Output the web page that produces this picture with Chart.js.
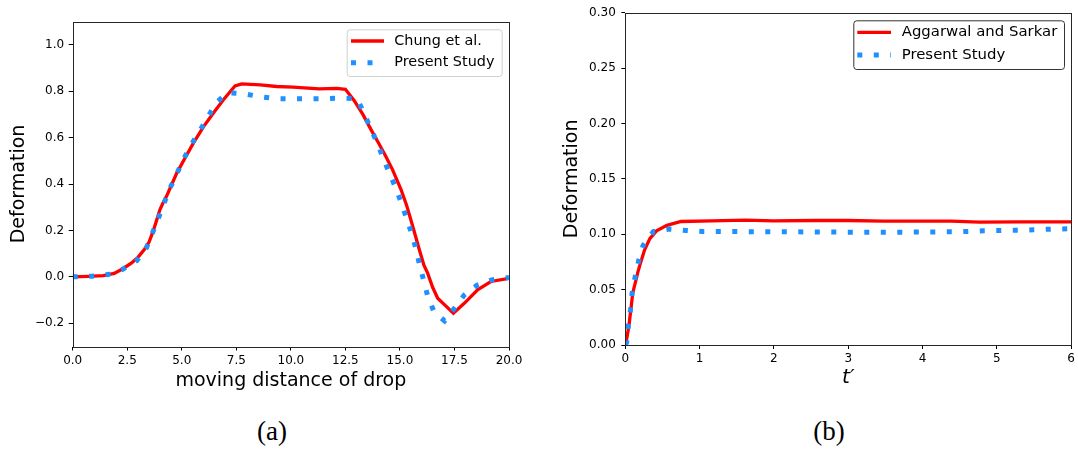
<!DOCTYPE html>
<html>
<head>
<meta charset="utf-8">
<script src="https://cdn.jsdelivr.net/npm/chart.js@4.4.1/dist/chart.umd.min.js"></script>
<style>
  body { margin: 0; background: #fff; }
  #wrap { position: relative; width: 1078px; height: 450px; overflow: hidden; }
  canvas { position: absolute; top: 0; }
  .cap {
    position: absolute; top: 431px;
    transform: translate(-50%, -50%);
    font-family: 'Liberation Serif', serif; font-size: 27px; color: #000;
  }
</style>
</head>
<body>
<div id="wrap">
  <canvas id="chartA" width="540" height="400" style="left:0;width:540px;height:400px"></canvas>
  <canvas id="chartB" width="538" height="400" style="left:540px;width:538px;height:400px"></canvas>
  <div class="cap" style="left:272px">(a)</div>
  <div class="cap" style="left:829px">(b)</div>
</div>
<script>
// (a) 이동 거리에 따른 변형
const A_CHUNG_X = [0, 0.7, 1.4, 1.9, 2.3, 2.7, 3.0, 3.3, 3.5, 3.7, 3.85, 4.0, 4.15, 4.3, 4.77, 5.15, 5.53, 6.0, 6.44, 6.9, 7.44, 7.75, 8.6, 9.35, 10.1, 11.3, 12.1, 12.5,
    12.9, 13.3, 13.7, 14.0, 14.35, 14.66, 15.05, 15.3, 15.5, 15.7, 15.89, 16.1, 16.27, 16.5, 16.73, 17.1, 17.45, 17.95, 18.56, 19.17, 20];
const A_CHUNG_Y = [0, 0.002, 0.005, 0.015, 0.035, 0.06, 0.085, 0.12, 0.15, 0.2, 0.245, 0.29, 0.32, 0.347, 0.447, 0.512, 0.576, 0.647, 0.705, 0.762, 0.822, 0.831, 0.827, 0.82, 0.817, 0.81, 0.812, 0.808,
    0.76, 0.70, 0.63, 0.58, 0.52, 0.462, 0.376, 0.31, 0.246, 0.18, 0.117, 0.05, 0.016, -0.045, -0.092, -0.125, -0.157, -0.114, -0.056, -0.02, -0.006];
const A_PRESENT_X = [0, 0.88, 1.63, 2.3, 2.94, 3.38, 3.66, 3.93, 4.2, 4.48, 4.8, 5.11, 5.46, 5.86, 6.22, 6.58, 7.09, 7.85, 8.59, 9.33, 10.05, 10.8, 11.55, 12.3, 13.04,
    13.35, 13.64, 13.95, 14.22, 14.5, 14.79, 15.06, 15.3, 15.53, 15.74, 15.9, 16.09, 16.27, 16.56, 17.05, 17.5, 17.95, 18.53, 19.21, 20];
const A_PRESENT_Y = [0, 0.003, 0.01, 0.033, 0.07, 0.125, 0.19, 0.253, 0.32, 0.386, 0.45, 0.512, 0.573, 0.635, 0.692, 0.75, 0.793, 0.789, 0.776, 0.768, 0.767, 0.767, 0.768, 0.77, 0.767,
    0.706, 0.642, 0.58, 0.514, 0.45, 0.387, 0.32, 0.253, 0.189, 0.119, 0.052, -0.016, -0.082, -0.15, -0.19, -0.135, -0.078, -0.036, -0.013, -0.003];
const A_X_TICKS = [0, 2.5, 5, 7.5, 10, 12.5, 15, 17.5, 20];
const A_Y_TICKS = [-0.2, 0, 0.2, 0.4, 0.6, 0.8, 1.0];

// (b) 시간에 따른 변형
const B_AGGARWAL_X = [0, 0.02, 0.05, 0.08, 0.1, 0.13, 0.17, 0.2, 0.26, 0.33, 0.42, 0.56, 0.75, 1.16, 1.62, 1.99, 2.55, 3.0, 3.47, 3.93, 4.39, 4.76, 5.32, 6.0];
const B_AGGARWAL_Y = [0, 0.006, 0.018, 0.035, 0.047, 0.055, 0.066, 0.073, 0.086, 0.096, 0.103, 0.108, 0.1115, 0.112, 0.1127, 0.112, 0.1124, 0.1124, 0.1118, 0.1118, 0.1118, 0.111, 0.1112, 0.1112];
const B_PRESENT_X = [0, 0.018, 0.04, 0.07, 0.092, 0.134, 0.18, 0.24, 0.378, 0.595, 0.817, 1.04, 1.5, 2.0, 2.5, 3.0, 3.5, 4.0, 4.4, 4.6, 4.82, 5.05, 5.27, 5.49, 5.72, 6.0];
const B_PRESENT_Y = [0, 0.0024, 0.0174, 0.032, 0.047, 0.062, 0.0763, 0.09, 0.1025, 0.1046, 0.1034, 0.1025, 0.1024, 0.1022, 0.1021, 0.1019, 0.1018, 0.102, 0.1022, 0.1025, 0.1031, 0.1034, 0.1037, 0.104, 0.1046, 0.105];
const B_X_TICKS = [0, 1, 2, 3, 4, 5, 6];
const B_Y_TICKS = [0, 0.05, 0.10, 0.15, 0.20, 0.25, 0.30];

const RED = '#ff0000';
const BLUE = '#1e90ff';
const FONT = 'DejaVu Sans';

function toPoints(xs, ys) {
    return xs.map((x, i) => ({ x: x, y: ys[i] }));
}

function fixedTicks(values) {
    return scale => { scale.ticks = values.map(v => ({ value: v })); };
}

function fmt(v, digits) {
    const s = Math.abs(v).toFixed(digits);
    return v < -1e-9 ? '\u2212' + s : s;
}

// 테두리 + 범례
const framePlugin = {
    id: 'frameLegend',
    afterDatasetsDraw(chart, args, opts) {
        const ctx = chart.ctx;
        const a = chart.chartArea;
        ctx.save();
        ctx.strokeStyle = '#262626';
        ctx.lineWidth = 1;
        ctx.strokeRect(Math.round(a.left) + 0.5, Math.round(a.top) + 0.5,
            Math.round(a.right - a.left), Math.round(a.bottom - a.top));

        const b = opts.box;
        ctx.beginPath();
        ctx.roundRect(b[0] + 0.5, b[1] + 0.5, b[2], b[3], 3);
        ctx.fillStyle = 'rgba(255,255,255,0.85)';
        ctx.fill();
        ctx.strokeStyle = opts.edge;
        ctx.stroke();

        chart.data.datasets.forEach((ds, i) => {
            const y = opts.rows[i];
            ctx.beginPath();
            ctx.strokeStyle = ds.borderColor;
            ctx.lineWidth = ds.borderWidth;
            ctx.lineCap = 'butt';
            ctx.setLineDash(ds.borderDash || []);
            ctx.moveTo(opts.lineX[0], y);
            ctx.lineTo(opts.lineX[1], y);
            ctx.stroke();
            ctx.setLineDash([]);
            ctx.fillStyle = '#000';
            ctx.font = opts.fontSize + 'px ' + FONT;
            ctx.textBaseline = 'middle';
            ctx.textAlign = 'left';
            ctx.fillText(ds.label, opts.textX, y);
        });
        ctx.restore();
    }
};

function makeChart(id, cfg) {
    const tickFont = { family: FONT, size: cfg.tickSize };
    return new Chart(document.getElementById(id), {
        type: 'line',
        data: {
            datasets: [
                {
                    label: cfg.labels[0],
                    data: cfg.red,
                    borderColor: RED,
                    borderWidth: 3.3,
                    pointRadius: 0,
                    tension: 0,
                    order: 1
                },
                {
                    label: cfg.labels[1],
                    data: cfg.blue,
                    borderColor: BLUE,
                    borderWidth: 5,
                    borderDash: [5, 11.5],
                    borderCapStyle: 'butt',
                    pointRadius: 0,
                    tension: 0,
                    order: 0
                }
            ]
        },
        options: {
            responsive: false,
            animation: false,
            devicePixelRatio: 1,
            layout: { padding: cfg.padding },
            plugins: {
                legend: { display: false },
                tooltip: { enabled: false },
                frameLegend: cfg.legend
            },
            scales: {
                x: {
                    type: 'linear',
                    min: cfg.xRange[0],
                    max: cfg.xRange[1],
                    afterBuildTicks: fixedTicks(cfg.xTicks),
                    afterFit: s => { s.height = cfg.xHeight; },
                    grid: { drawOnChartArea: false, drawTicks: true, tickLength: 4, color: '#000' },
                    border: { display: false },
                    ticks: {
                        color: '#000', font: tickFont, padding: 3, maxRotation: 0, autoSkip: false,
                        callback: v => fmt(v, cfg.xDigits)
                    },
                    title: {
                        display: true, text: cfg.xTitle, color: '#000',
                        font: cfg.xTitleFont, padding: { top: 0, bottom: cfg.xTitlePad }
                    }
                },
                y: {
                    type: 'linear',
                    min: cfg.yRange[0],
                    max: cfg.yRange[1],
                    afterBuildTicks: fixedTicks(cfg.yTicks),
                    afterFit: s => { s.width = cfg.yWidth; },
                    grid: { drawOnChartArea: false, drawTicks: true, tickLength: 4, color: '#000' },
                    border: { display: false },
                    ticks: {
                        color: '#000', font: tickFont, padding: cfg.yTickPad, autoSkip: false,
                        callback: v => fmt(v, cfg.yDigits)
                    },
                    title: {
                        display: true, text: 'Deformation', color: '#000',
                        font: { family: FONT, size: 19 }, padding: { top: cfg.yTitlePad, bottom: 0 }
                    }
                }
            }
        },
        plugins: [framePlugin]
    });
}

makeChart('chartA', {
    labels: ['Chung et al.', 'Present Study'],
    red: toPoints(A_CHUNG_X, A_CHUNG_Y),
    blue: toPoints(A_PRESENT_X, A_PRESENT_Y),
    xRange: [0, 20], yRange: [-0.3, 1.1],
    xTicks: A_X_TICKS, yTicks: A_Y_TICKS,
    xDigits: 1, yDigits: 1,
    tickSize: 12,
    padding: { top: 21.5, right: 31, left: 0, bottom: 0 },
    xHeight: 53.5, yWidth: 72.7,
    yTickPad: 4.5,
    xTitle: 'moving distance of drop',
    xTitleFont: { family: FONT, size: 19 },
    xTitlePad: 7.6,
    yTitlePad: 7.2,
    legend: {
        box: [346.7, 29.3, 155, 46.7], edge: '#d0d0d0',
        rows: [41, 62.7], lineX: [351, 384], textX: 394.3, fontSize: 14.4
    }
});

makeChart('chartB', {
    labels: ['Aggarwal and Sarkar', 'Present Study'],
    red: toPoints(B_AGGARWAL_X, B_AGGARWAL_Y),
    blue: toPoints(B_PRESENT_X, B_PRESENT_Y),
    xRange: [0, 6], yRange: [0, 0.30],
    xTicks: B_X_TICKS, yTicks: B_Y_TICKS,
    xDigits: 0, yDigits: 2,
    tickSize: 12,
    padding: { top: 12.3, right: 6.7, left: 0, bottom: 0 },
    xHeight: 55, yWidth: 85.3,
    yTickPad: 5.5,
    xTitle: 't\u2032',
    xTitleFont: { family: FONT, size: 20, style: 'italic' },
    xTitlePad: 10,
    yTitlePad: 20.5,
    legend: {
        box: [313.3, 20.3, 210.7, 48.7], edge: '#333333',
        rows: [32.3, 55], lineX: [317.3, 351], textX: 361.7, fontSize: 14.9
    }
});
</script>
</body>
</html>
